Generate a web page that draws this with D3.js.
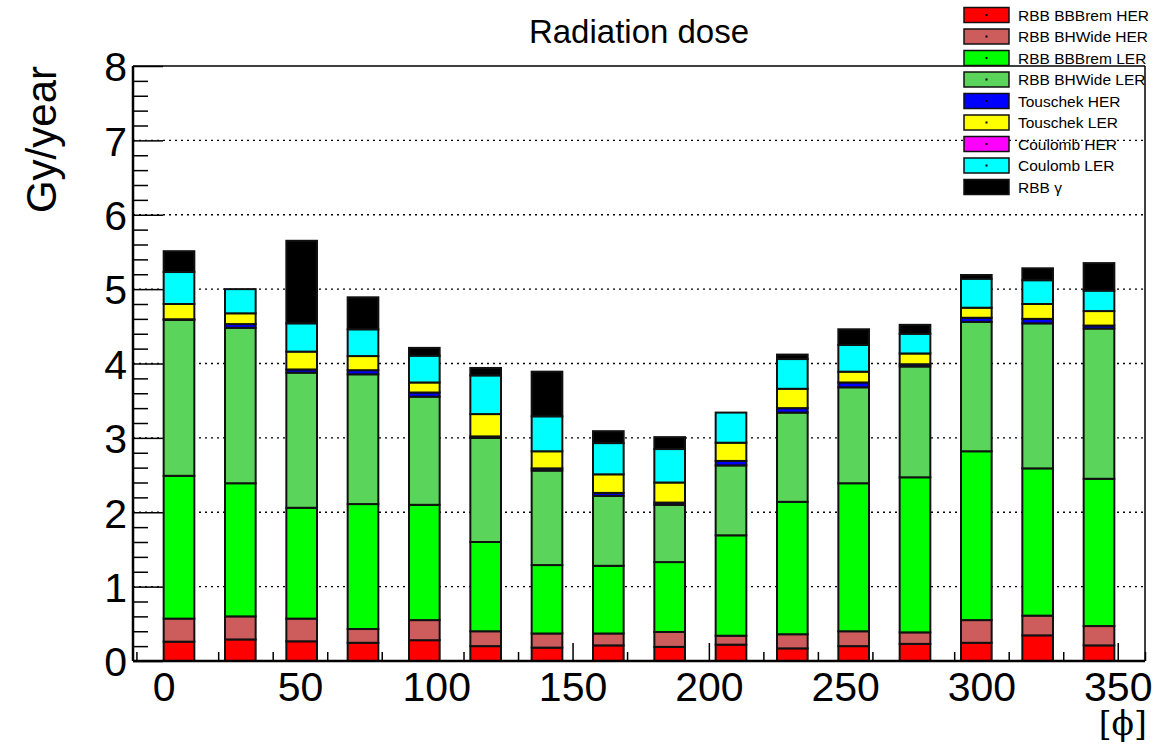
<!DOCTYPE html>
<html>
<head>
<meta charset="utf-8">
<script src="https://cdn.jsdelivr.net/npm/d3@7"></script>
<style>
  body { margin: 0; background: #fff; }
  svg { font-family: "Liberation Sans", Arial, Helvetica, sans-serif; }
</style>
</head>
<body>
<svg id="chart" width="1159" height="745"></svg>
<script>
// phi bins (left edge of each bar)
const phi = [0, 22.5, 45, 67.5, 90, 112.5, 135, 157.5, 180, 202.5, 225, 247.5, 270, 292.5, 315, 337.5];

// stacked contributions (Gy/year), bottom to top
const rbbBBBremHER  = [0.26, 0.29, 0.265, 0.245, 0.28, 0.20, 0.18, 0.21, 0.19, 0.22, 0.17, 0.20, 0.23, 0.245, 0.345, 0.21];
const rbbBHWideHER  = [0.31, 0.31, 0.305, 0.185, 0.27, 0.20, 0.19, 0.16, 0.20, 0.12, 0.19, 0.20, 0.155, 0.305, 0.265, 0.26];
const rbbBBBremLER  = [1.92, 1.79, 1.49, 1.68, 1.55, 1.20, 0.92, 0.91, 0.94, 1.35, 1.78, 1.99, 2.085, 2.27, 1.98, 1.98];
const rbbBHWideLER  = [2.095, 2.09, 1.817, 1.745, 1.454, 1.40, 1.27, 0.94, 0.77, 0.94, 1.20, 1.29, 1.49, 1.74, 1.95, 2.02];
const touschekHER   = [0.01, 0.05, 0.043, 0.055, 0.056, 0.02, 0.03, 0.04, 0.03, 0.06, 0.06, 0.065, 0.03, 0.055, 0.06, 0.04];
const touschekLER   = [0.205, 0.145, 0.24, 0.19, 0.135, 0.30, 0.23, 0.25, 0.27, 0.245, 0.26, 0.145, 0.145, 0.135, 0.20, 0.195];
const coulombHER    = [0, 0, 0, 0, 0, 0, 0, 0, 0, 0, 0, 0, 0, 0, 0, 0];
const coulombLER    = [0.43, 0.325, 0.38, 0.36, 0.36, 0.52, 0.47, 0.42, 0.45, 0.405, 0.40, 0.36, 0.265, 0.39, 0.32, 0.275];
const rbbGamma      = [0.28, 0.0, 1.11, 0.43, 0.105, 0.10, 0.60, 0.16, 0.16, 0.0, 0.06, 0.21, 0.12, 0.05, 0.16, 0.37];

const seriesNames = ["RBB BBBrem HER", "RBB BHWide HER", "RBB BBBrem LER", "RBB BHWide LER",
                     "Touschek HER", "Touschek LER", "Coulomb HER", "Coulomb LER", "RBB \u03b3"];
const seriesValues = [rbbBBBremHER, rbbBHWideHER, rbbBBBremLER, rbbBHWideLER,
                      touschekHER, touschekLER, coulombHER, coulombLER, rbbGamma];
const seriesColors = ["#ff0000", "#cd5c5c", "#00ff00", "#5ad45a",
                      "#0000ff", "#ffff00", "#ff00ff", "#00ffff", "#000000"];

const yMajor = [0, 1, 2, 3, 4, 5, 6, 7, 8];
const xMajor = [0, 50, 100, 150, 200, 250, 300, 350];

// Dimensions and margins
const margin = { top: 66, right: 14, bottom: 84, left: 133 },
      width = 1159 - margin.left - margin.right,
      height = 745 - margin.top - margin.bottom;

const svg = d3.select("#chart");
const g = svg.append("g")
    .attr("transform", `translate(${margin.left},${margin.top})`);

// Scales
const x = d3.scaleLinear().domain([-11.25, 360]).range([0, width]);
const y = d3.scaleLinear().domain([0, 8]).range([height, 0]);
const binWidth = 22.5;

// Build table for the stack
const table = phi.map((p, i) => {
    const row = { phi: p };
    seriesNames.forEach((n, k) => { row[n] = seriesValues[k][i]; });
    return row;
});
const stacked = d3.stack().keys(seriesNames)(table);
const color = d3.scaleOrdinal().domain(seriesNames).range(seriesColors);

// Horizontal dotted grid
g.selectAll(".grid")
    .data(yMajor.filter(v => v > 0 && v < 8))
    .enter().append("line")
    .attr("x1", 0).attr("x2", width)
    .attr("y1", d => y(d)).attr("y2", d => y(d))
    .attr("stroke", "#000")
    .attr("stroke-width", 1.3)
    .attr("stroke-dasharray", "2,4");

// Y axis: major + minor ticks pointing inward
const yMinor = d3.range(0, 8.001, 0.2).filter(v => Math.abs(v - Math.round(v)) > 1e-6);
g.append("g")
    .call(d3.axisLeft(y).tickValues(yMinor).tickSize(-15).tickFormat(""))
    .call(a => a.select(".domain").remove())
    .call(a => a.selectAll("line").attr("stroke-width", 1.5));
g.append("g")
    .call(d3.axisLeft(y).tickValues(yMajor).tickSize(-30).tickPadding(6).tickFormat(d3.format("d")))
    .call(a => a.select(".domain").remove())
    .call(a => a.selectAll("line").attr("stroke-width", 1.5))
    .call(a => a.selectAll("text")
        .attr("font-size", 41)
        .attr("font-family", "Liberation Sans, Arial, sans-serif")
        .attr("dy", "0.36em")
        .attr("fill", "#000"));

// X axis: ticks every 10 (drawn beneath the bars)
const xMinor = d3.range(-10, 361, 10).filter(v => v % 50 !== 0);
g.append("g")
    .attr("transform", `translate(0,${height})`)
    .call(d3.axisBottom(x).tickValues(xMinor).tickSize(-9).tickFormat(""))
    .call(a => a.select(".domain").remove())
    .call(a => a.selectAll("line").attr("stroke-width", 1.5));
g.append("g")
    .attr("transform", `translate(0,${height})`)
    .call(d3.axisBottom(x).tickValues(xMajor).tickSize(-18).tickPadding(11).tickFormat(d3.format("d")))
    .call(a => a.select(".domain").remove())
    .call(a => a.selectAll("line").attr("stroke-width", 1.5))
    .call(a => a.selectAll("text")
        .attr("font-size", 41)
        .attr("font-family", "Liberation Sans, Arial, sans-serif")
        .attr("fill", "#000"));

// Stacked bars (bar occupies left half of each 22.5 deg bin)
const layers = g.selectAll(".layer")
    .data(stacked)
    .enter().append("g")
    .attr("class", "layer")
    .attr("fill", d => color(d.key));

layers.selectAll("rect")
    .data(d => d)
    .enter().append("rect")
    .attr("x", d => x(d.data.phi))
    .attr("width", x(binWidth / 2) - x(0))
    .attr("y", d => y(d[1]))
    .attr("height", d => y(d[0]) - y(d[1]))
    .attr("stroke", "#111")
    .attr("stroke-width", 2);

// Frame
g.append("line").attr("x1", 0).attr("x2", width).attr("y1", 0).attr("y2", 0)
    .attr("stroke", "#000").attr("stroke-width", 1.5);
g.append("line").attr("x1", width).attr("x2", width).attr("y1", 0).attr("y2", height)
    .attr("stroke", "#000").attr("stroke-width", 1.5);
g.append("line").attr("x1", 0).attr("x2", width).attr("y1", height).attr("y2", height)
    .attr("stroke", "#000").attr("stroke-width", 2.5);
g.append("line").attr("x1", 0).attr("x2", 0).attr("y1", 0).attr("y2", height)
    .attr("stroke", "#000").attr("stroke-width", 2.5);

// Title
svg.append("text")
    .attr("x", 639).attr("y", 43)
    .attr("text-anchor", "middle")
    .attr("font-size", 33)
    .text("Radiation dose");

// Axis titles
svg.append("text")
    .attr("transform", `translate(56,${margin.top}) rotate(-90)`)
    .attr("text-anchor", "end")
    .attr("font-size", 42)
    .text("Gy/year");

svg.append("text")
    .attr("x", 1147).attr("y", 735)
    .attr("text-anchor", "end")
    .attr("font-size", 33)
    .attr("font-family", "DejaVu Serif, Liberation Serif, serif")
    .text("[\u03d5]");

// Legend (transparent, no border)
const legend = svg.selectAll(".legend")
    .data(seriesNames)
    .enter().append("g")
    .attr("class", "legend")
    .attr("transform", (d, i) => `translate(964,${15 + i * 21.5})`);

legend.append("rect")
    .attr("x", 0).attr("y", -7.5)
    .attr("width", 45).attr("height", 15)
    .attr("fill", d => color(d))
    .attr("stroke", "#111")
    .attr("stroke-width", 1.5);

legend.append("rect")
    .attr("x", 21.5).attr("y", -1)
    .attr("width", 2).attr("height", 2)
    .attr("fill", "#000");

legend.append("text")
    .attr("x", 54)
    .attr("y", 0)
    .attr("dy", "0.36em")
    .attr("font-size", 15.5)
    .text(d => d);
</script>
</body>
</html>
